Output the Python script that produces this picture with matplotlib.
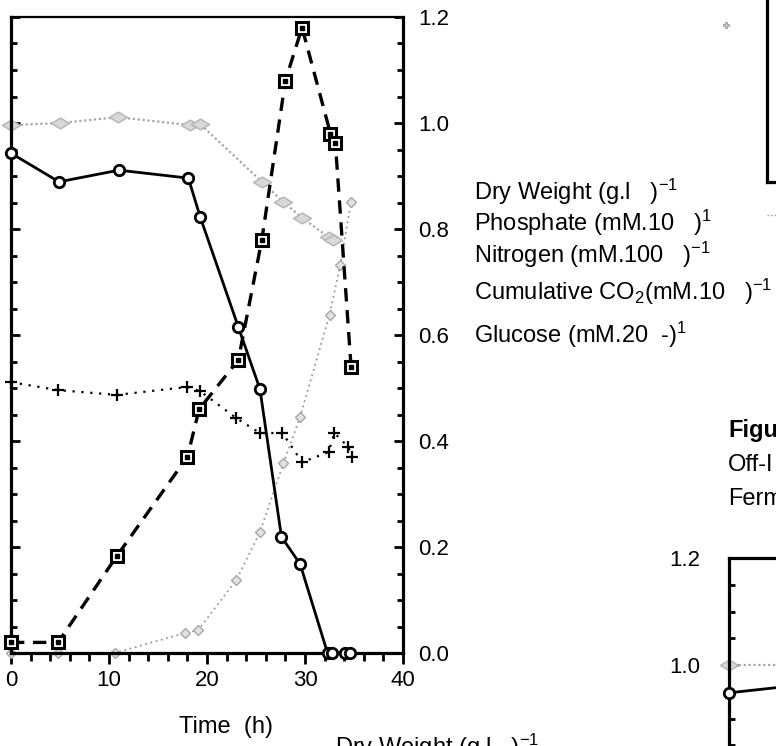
import matplotlib
matplotlib.use("Agg")
import matplotlib.pyplot as plt
from matplotlib.lines import Line2D
from matplotlib.path import Path
from matplotlib.ticker import MultipleLocator

plt.rcParams["font.family"] = ["Liberation Sans", "DejaVu Sans"]
plt.rcParams["mathtext.fontset"] = "custom"
plt.rcParams["mathtext.rm"] = "Liberation Sans"
plt.rcParams["mathtext.it"] = "Liberation Sans:italic"
plt.rcParams["mathtext.default"] = "regular"

# ---- data (time in hours) ----
time_dw = [0, 4.8, 10.8, 18.0, 19.2, 23.2, 25.6, 28.0, 29.7, 32.6, 33.1, 34.7]
dry_weight = [0.02, 0.02, 0.183, 0.37, 0.46, 0.553, 0.78, 1.08, 1.18, 0.98, 0.962, 0.54]

time_p = [0, 4.9, 11.0, 18.1, 19.3, 23.2, 25.4, 27.6, 29.5, 32.3, 32.8, 34.1, 34.6]
phosphate = [0.943, 0.889, 0.911, 0.896, 0.823, 0.615, 0.498, 0.219, 0.168, 0.0, 0.0, 0.0, 0.0]

time_n = [0, 5.0, 10.9, 18.3, 19.3, 25.6, 27.8, 29.7, 32.4, 32.9]
nitrogen = [0.996, 1.0, 1.011, 0.996, 0.998, 0.889, 0.851, 0.821, 0.785, 0.78]

time_c = [0, 4.8, 10.6, 17.8, 19.1, 23.0, 25.4, 27.8, 29.5, 32.5, 33.6, 34.7]
co2 = [0.0, 0.0, 0.0, 0.038, 0.043, 0.138, 0.228, 0.358, 0.445, 0.638, 0.732, 0.851]

time_g = [0, 4.8, 10.8, 18.0, 19.3, 23.0, 25.4, 27.7, 29.7, 32.4, 33.0, 34.4, 34.8]
glucose = [0.511, 0.496, 0.487, 0.502, 0.494, 0.443, 0.415, 0.415, 0.36, 0.379, 0.415, 0.389, 0.37]

# next run (only its first samples fit on the page)
time2 = [0, 5.0]
phosphate2 = [0.948, 0.958]
nitrogen2 = [1.0, 1.0]

x_ticks = [0, 10, 20, 30, 40]
y_ticks = [0.0, 0.2, 0.4, 0.6, 0.8, 1.0, 1.2]

legend_labels = [
    "Dry Weight (g.l   )$^{-1}$",
    "Phosphate (mM.10   )$^{1}$",
    "Nitrogen (mM.100   )$^{-1}$",
    "Cumulative CO$_2$(mM.10   )$^{-1}$",
    "Glucose (mM.20  -)$^{1}$",
]

W, H = 776, 746
fig = plt.figure(figsize=(W / 100, H / 100), dpi=100)


def fx(px):
    return px / W


def fy(py):
    return 1 - py / H


# wide diamond used for the nitrogen points
wide_diamond = Path([(-1, 0), (0, 0.6), (1, 0), (0, -0.6), (-1, 0)],
                    [Path.MOVETO, Path.LINETO, Path.LINETO, Path.LINETO, Path.CLOSEPOLY])

ax = fig.add_axes([fx(11), fy(653), fx(403) - fx(11), fy(17) - fy(653)])
ax.set_xlim(0, 40)
ax.set_ylim(0, 1.2)

ax.plot(time_n, nitrogen, color="#a5a5a5", lw=1.6, ls=(0, (1, 1.2)),
        marker=wide_diamond, ms=13, mfc="#d8d8d8", mec="#b4b4b4", mew=1,
        clip_on=False, zorder=2)
ax.plot(time_c, co2, color="#9a9a9a", lw=1.3, ls=(0, (1, 2)),
        marker="D", ms=5, mfc="#e2e2e2", mec="#a8a8a8", mew=1,
        clip_on=False, zorder=2)
ax.plot(time_g, glucose, color="black", lw=1.6, ls=(0, (1, 3)),
        marker="+", ms=9, mew=1.6, mec="black",
        clip_on=False, zorder=3)
ax.plot(time_p, phosphate, color="black", lw=2.0, ls="-",
        marker="o", ms=7.5, mfc="white", mec="black", mew=2,
        clip_on=False, zorder=4)
ax.plot(time_dw, dry_weight, color="black", lw=2.4, ls=(0, (4, 2.6)),
        marker="s", ms=8.5, mfc="white", mec="black", mew=2.2,
        clip_on=False, zorder=5)
ax.plot(time_dw, dry_weight, ls="none", marker="s", ms=2.2, mfc="black",
        mec="black", clip_on=False, zorder=6)

for side in ["left", "right", "bottom"]:
    ax.spines[side].set_linewidth(2.3)
ax.spines["top"].set_linewidth(1.6)

ax.set_xticks(x_ticks)
ax.set_xticklabels([str(v) for v in x_ticks])
ax.xaxis.set_minor_locator(MultipleLocator(2))
ax.tick_params(axis="x", which="both", direction="out", top=False, bottom=True,
               width=2, labelsize=16, pad=4)
ax.tick_params(axis="x", which="major", length=8)
ax.tick_params(axis="x", which="minor", length=5.5)

ax.set_yticks(y_ticks)
ax.set_yticklabels([f"{v:.1f}" for v in y_ticks])
ax.yaxis.set_minor_locator(MultipleLocator(0.05))
ax.tick_params(axis="y", which="both", direction="in", left=True, right=True,
               labelleft=False, labelright=True, width=2, labelsize=16, pad=11)
ax.tick_params(axis="y", which="major", length=6.5)
ax.tick_params(axis="y", which="minor", length=4.5)

fig.text(fx(226), fy(727), "Time  (h)", fontsize=17, ha="center", va="center")

# series key beside the right axis
key_baselines = [200, 231, 263, 300, 343]
for label, yb in zip(legend_labels, key_baselines):
    fig.text(fx(474), fy(yb), label, fontsize=17, ha="left", va="baseline")

# start of the caption on the right
fig.text(fx(728), fy(437), "Figu", fontsize=17, fontweight="bold",
         ha="left", va="baseline")
fig.text(fx(728), fy(471), "Off-I", fontsize=17, ha="left", va="baseline")
fig.text(fx(728), fy(505), "Ferm", fontsize=17, ha="left", va="baseline")

# axis title of the panel below
fig.text(fx(335), fy(755), "Dry Weight (g.l   )$^{-1}$", fontsize=17,
         ha="left", va="baseline")

# frame of the panel above right
ax_top = fig.add_axes([fx(767), fy(182), 0.3, 0.5])
ax_top.set_xticks([])
ax_top.set_yticks([])
for side in ["top", "right"]:
    ax_top.spines[side].set_visible(False)
for side in ["left", "bottom"]:
    ax_top.spines[side].set_linewidth(2.3)
ax_top.patch.set_alpha(0)
fig.add_artist(Line2D([fx(726)], [fy(25)], transform=fig.transFigure,
                      marker="P", ms=5, mfc="#c8c8c8", mec="#9a9a9a",
                      mew=0.6, ls="none"))
fig.add_artist(Line2D([fx(767), fx(776)], [fy(215), fy(215)],
                      transform=fig.transFigure, color="#9a9a9a",
                      lw=1, ls=(0, (1, 1.5))))

# panel below right: same scales as the main panel
y0_px = 558 + 1.2 * 535
ax2 = fig.add_axes([fx(729), fy(y0_px), 392 / W, (y0_px - 558) / H])
ax2.set_xlim(0, 40)
ax2.set_ylim(0, 1.2)
ax2.plot(time2, nitrogen2, color="#a5a5a5", lw=1.6, ls=(0, (1, 1.2)),
         marker=wide_diamond, ms=13, mfc="#d8d8d8", mec="#b4b4b4", mew=1,
         markevery=[0], clip_on=False, zorder=2)
ax2.plot(time2, phosphate2, color="black", lw=2.0,
         marker="o", ms=7.5, mfc="white", mec="black", mew=2,
         markevery=[0], clip_on=False, zorder=4)
ax2.set_yticks([1.0, 1.2])
ax2.set_yticklabels(["1.0", "1.2"])
ax2.yaxis.set_minor_locator(MultipleLocator(0.05))
ax2.tick_params(axis="y", which="both", direction="in", left=True, right=False,
                width=2, labelsize=16, pad=21)
ax2.tick_params(axis="y", which="major", length=6.5)
ax2.tick_params(axis="y", which="minor", length=4.5)
ax2.set_xticks([])
for side in ["left", "top"]:
    ax2.spines[side].set_linewidth(2.3)

fig.savefig("out.png", dpi=100)
